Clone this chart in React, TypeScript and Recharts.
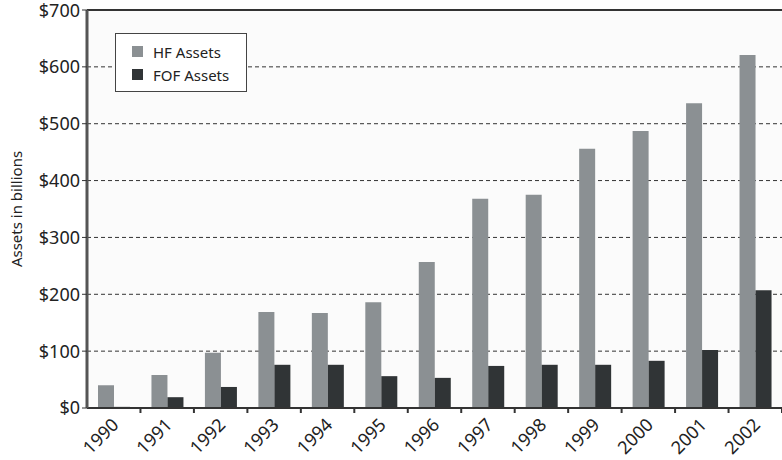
import React from 'react'
import {
  BarChart,
  Bar,
  XAxis,
  YAxis,
  CartesianGrid,
  ReferenceLine,
} from 'recharts'

const years = ['1990', '1991', '1992', '1993', '1994', '1995', '1996', '1997', '1998', '1999', '2000', '2001', '2002']
const hfAssets = [40, 58, 97, 169, 167, 186, 257, 368, 375, 456, 487, 536, 621]
const fofAssets = [2, 19, 37, 76, 76, 56, 53, 74, 76, 76, 83, 102, 207]
const yTicks = [0, 100, 200, 300, 400, 500, 600, 700]

const data = years.map((year, i) => ({ year, hf: hfAssets[i], fof: fofAssets[i] }))

const FONT = '"Noto Sans", sans-serif'
const HF_COLOR = '#8b9093'
const FOF_COLOR = '#303436'
const BAND = (782 - 87) / years.length

function YearTick(props: any) {
  const { x, y, payload } = props
  return (
    <g>
      <line x1={x + BAND / 2} y1={y - 8} x2={x + BAND / 2} y2={y - 3} stroke="#333" strokeWidth={2} />
      <text
        x={x + 6}
        y={y + 10}
        transform={`rotate(-45, ${x + 6}, ${y + 10})`}
        textAnchor="end"
        fontSize={18}
        fontFamily={FONT}
        fill="#222"
      >
        {payload.value}
      </text>
    </g>
  )
}

function LegendBox() {
  const item = (color: string, label: string) => (
    <div style={{ display: 'flex', alignItems: 'center', height: 23 }}>
      <div style={{ width: 11, height: 11, background: color, marginRight: 10 }} />
      <span>{label}</span>
    </div>
  )
  return (
    <div
      style={{
        position: 'absolute',
        left: 115,
        top: 33,
        width: 132,
        height: 59,
        boxSizing: 'border-box',
        border: '1px solid #444',
        background: '#fff',
        padding: '6px 8px 6px 16px',
        fontFamily: FONT,
        fontSize: 15,
        color: '#222',
      }}
    >
      {item(HF_COLOR, 'HF Assets')}
      {item(FOF_COLOR, 'FOF Assets')}
    </div>
  )
}

export default function App() {
  return (
    <div style={{ position: 'absolute', left: 0, top: 0, width: 782, height: 460, background: '#fff' }}>
      <BarChart
        width={782}
        height={460}
        data={data}
        margin={{ top: 10, right: 0, left: 27, bottom: 2 }}
        barSize={16}
        barGap={0}
      >
        <CartesianGrid
          vertical={false}
          stroke="#333"
          strokeDasharray="4 3"
          fill="#fbfbfb"
          fillOpacity={1}
        />
        <XAxis
          dataKey="year"
          tick={<YearTick />}
          tickLine={false}
          axisLine={{ stroke: '#333', strokeWidth: 2 }}
          interval={0}
          height={50}
        />
        <YAxis
          domain={[0, 700]}
          ticks={yTicks}
          tickFormatter={(v: number) => `$${v}`}
          tick={{ fontSize: 18, fontFamily: FONT, fill: '#222' }}
          tickSize={5}
          tickLine={{ stroke: '#333' }}
          axisLine={{ stroke: '#555', strokeWidth: 3 }}
          width={60}
          label={{
            value: 'Assets in billions',
            angle: -90,
            position: 'insideLeft',
            offset: -10,
            style: { textAnchor: 'middle', fontSize: 15, fontFamily: FONT, fill: '#222' },
          }}
        />
        <ReferenceLine y={700} stroke="#333" strokeWidth={2} />
        <ReferenceLine y={0} stroke="#333" strokeWidth={2} />
        <Bar dataKey="hf" name="HF Assets" fill={HF_COLOR} isAnimationActive={false} />
        <Bar dataKey="fof" name="FOF Assets" fill={FOF_COLOR} isAnimationActive={false} />
      </BarChart>
      <LegendBox />
    </div>
  )
}
